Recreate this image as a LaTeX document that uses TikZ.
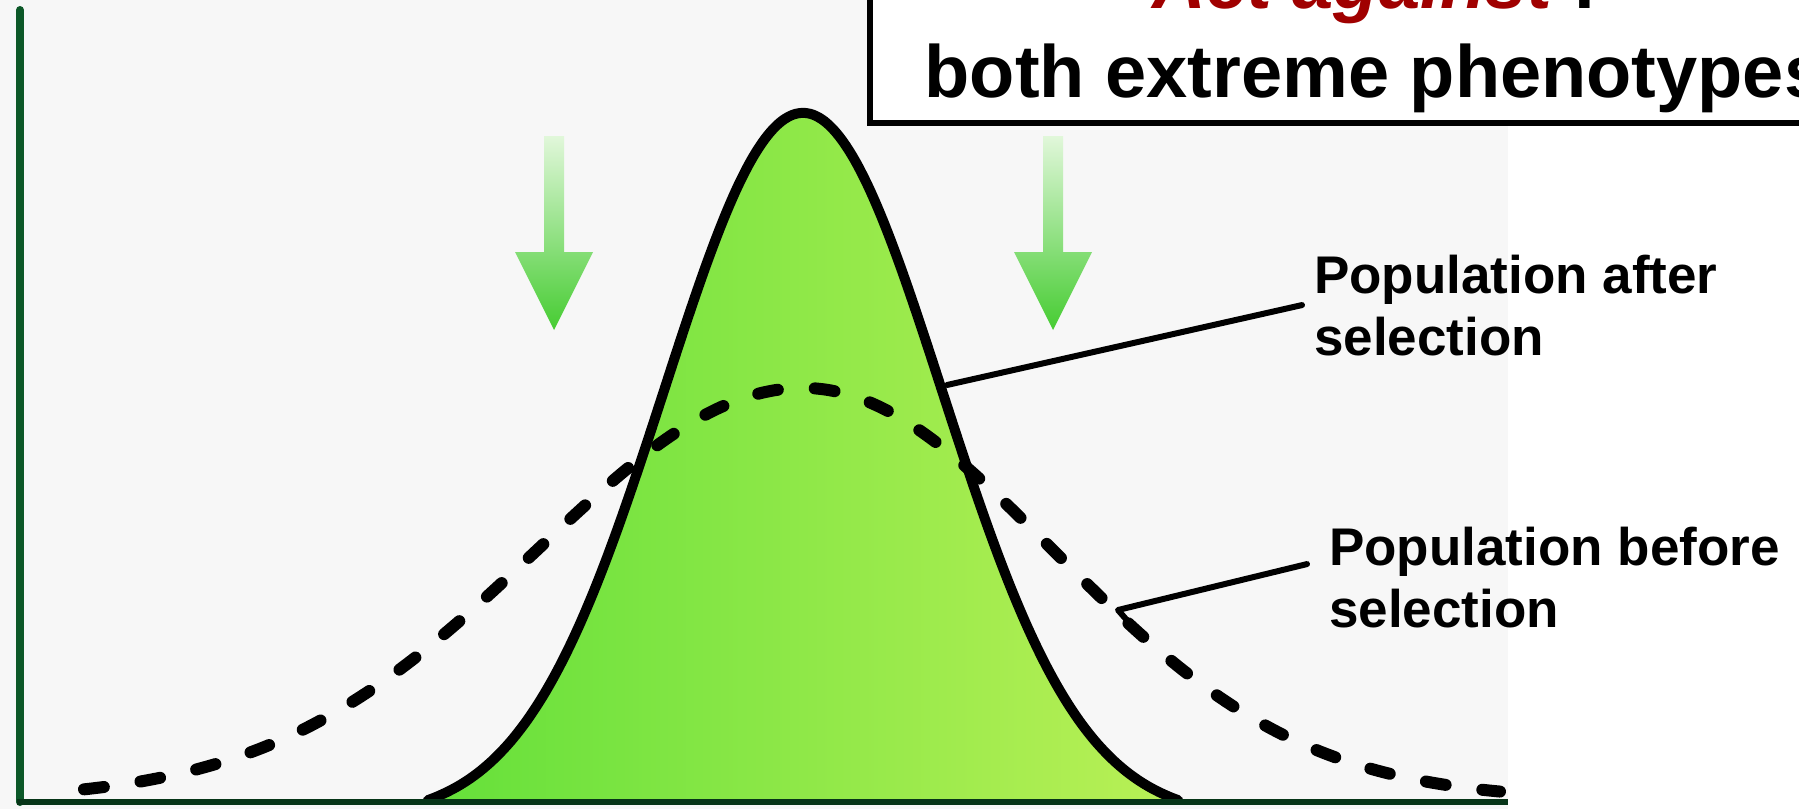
\documentclass[tikz,border=0pt]{standalone}
\usepackage{fontspec}
\setmainfont{Liberation Sans}
\usetikzlibrary{positioning}

\definecolor{bggrey}{RGB}{247,247,247}
\definecolor{axisgreen}{RGB}{12,88,40}
\definecolor{actred}{RGB}{160,0,0}
\definecolor{arrowgreen}{RGB}{70,204,50}
\definecolor{arrowtop}{RGB}{225,247,218}
\definecolor{fillleft}{RGB}{100,224,58}
\definecolor{fillmid}{RGB}{140,240,80}
\definecolor{fillright}{RGB}{186,240,86}

\tikzset{
  titlebox/.style={draw,line width=6pt,fill=white,align=center,
    font=\fontsize{74}{89}\selectfont\bfseries,inner xsep=55pt,inner ysep=11pt},
  labeltext/.style={align=left,inner sep=0pt,font=\fontsize{53}{62}\selectfont\bfseries},
  pointer/.style={line width=6pt,line cap=round,line join=round},
}

\begin{document}
\begin{tikzpicture}[x=1pt,y=-1pt]
  \useasboundingbox (0,0) rectangle (1799,809);
  \fill[bggrey] (0,0) rectangle (1508,809);

  % population after selection
  \shade[left color=fillleft,middle color=fillmid,right color=fillright]
    plot[domain=428:1178,samples=160,smooth]
      (\x,{800-687*(exp(-0.5*((\x-803)/139)^2)-0.0263)/0.9737}) -- cycle;
  \draw[line width=10pt,line cap=round]
    plot[domain=428:1178,samples=160,smooth]
      (\x,{800-687*(exp(-0.5*((\x-803)/139)^2)-0.0263)/0.9737});

  % population before selection
  \draw[line width=12pt,line cap=round,dash pattern=on 20pt off 37pt]
    plot[domain=84:1500,samples=220,smooth]
      (\x,{800-412*exp(-0.5*((\x-803)/ifthenelse(\x<803,266,250))^2)});

  % axes
  \draw[axisgreen,line width=8pt,line cap=round] (20,10) -- (20,802);
  \draw[axisgreen!60!black,line width=6pt] (17,802) -- (1508,802);

  % selection arrows
  \foreach \ax in {554,1053} {
    \shade[top color=arrowtop,middle color=arrowgreen!80!white,bottom color=arrowgreen]
      (\ax-10,136) -- (\ax+10,136) -- (\ax+10,252) -- (\ax+39,252) -- (\ax,330)
      -- (\ax-39,252) -- (\ax-10,252) -- cycle;
  }

  \node[titlebox,anchor=base] (title) at (1375,97)
    {{\color{actred}\itshape Act against} :\\both extreme phenotypes};

  \node[labeltext,anchor=base west] (after) at (1314,355) {Population after\\selection};
  \node[labeltext,anchor=base west] (before) at (1329,627) {Population before\\selection};

  \coordinate (afterpt) at (947,385);
  \coordinate (hook) at (1118,610);
  \coordinate (beforept) at (1132,626);

  \draw[pointer] (afterpt) -- ([xshift=-12pt]after.west);
  \draw[pointer] ([shift={(-22pt,13pt)}]before.west) -- (hook) -- (beforept);
\end{tikzpicture}
\end{document}
